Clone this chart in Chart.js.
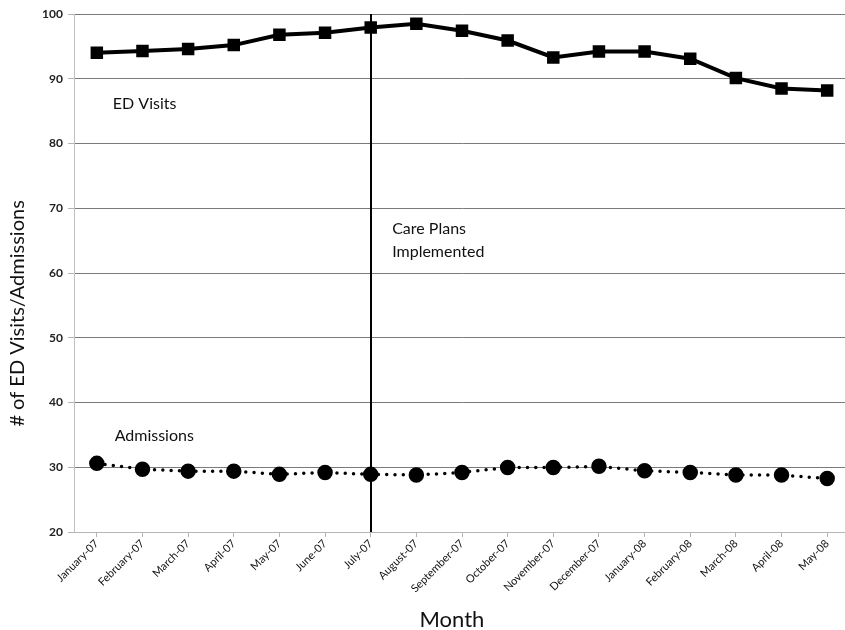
<!DOCTYPE html>
<html>
<head>
<meta charset="utf-8">
<script src="https://cdn.jsdelivr.net/npm/chart.js@4.4.1/dist/chart.umd.min.js"></script>
<style>
    html, body { margin: 0; padding: 0; background: #fff; overflow: hidden; }
    #wrap { width: 860px; height: 630px; }
</style>
</head>
<body>
<div id="wrap"><canvas id="visitsChart" width="860" height="630"></canvas></div>
<script>
var months = ["January-07", "February-07", "March-07", "April-07", "May-07", "June-07", "July-07",
    "August-07", "September-07", "October-07", "November-07", "December-07", "January-08",
    "February-08", "March-08", "April-08", "May-08"];
var edVisits = [94.0, 94.3, 94.6, 95.2, 96.8, 97.1, 97.9, 98.5, 97.4, 95.9, 93.3, 94.2, 94.2, 93.1, 90.1, 88.5, 88.2];
var admissions = [30.6, 29.7, 29.4, 29.4, 28.9, 29.2, 28.9, 28.8, 29.2, 29.95, 29.95, 30.15, 29.45, 29.2, 28.8, 28.8, 28.25];
var yTicks = [20, 30, 40, 50, 60, 70, 80, 90, 100];
var interventionMonth = "July-07";
var xTitle = "Month";
var yTitle = "# of ED Visits/Admissions";

// texte posé sur le graphique (index de catégorie, valeur y)
var notes = [
    { lines: ["ED Visits"], x: 0.35, y: 86.1 },
    { lines: ["Care Plans", "Implemented"], x: 6.47, y: 66.8 },
    { lines: ["Admissions"], x: 0.39, y: 34.9 }
];

var noteFont = "16px Lato";

var annotationPlugin = {
    id: 'annotations',
    afterDatasetsDraw: function (chart) {
        var ctx = chart.ctx;
        var xs = chart.scales.x;
        var ys = chart.scales.y;
        var area = chart.chartArea;
        // ligne verticale : mise en place des plans de soins
        var lx = Math.round(xs.getPixelForValue(months.indexOf(interventionMonth)));
        ctx.save();
        ctx.strokeStyle = '#000';
        ctx.lineWidth = 2;
        ctx.beginPath();
        ctx.moveTo(lx, area.top);
        ctx.lineTo(lx, area.bottom);
        ctx.stroke();

        ctx.fillStyle = '#111';
        ctx.font = noteFont;
        ctx.textAlign = 'left';
        ctx.textBaseline = 'middle';
        notes.forEach(function (n) {
            var px = xs.getPixelForValue(n.x);
            var py = ys.getPixelForValue(n.y);
            n.lines.forEach(function (l, i) {
                ctx.fillText(l, px, py + i * 23);
            });
        });

        // titres des axes (décalés comme dans Excel)
        ctx.textAlign = 'center';
        ctx.font = "22px Lato";
        ctx.fillText(xTitle, area.left + (area.right - area.left) * 0.487, 620);
        ctx.font = "20px Lato";
        ctx.translate(18, area.top + (area.bottom - area.top) * 0.578);
        ctx.rotate(-Math.PI / 2);
        ctx.fillText(yTitle, 0, 0);
        ctx.restore();
    }
};

var oVisitsChart = new Chart(document.getElementById('visitsChart'), {
    type: 'line',
    data: {
        labels: months,
        datasets: [{
            label: 'ED Visits',
            data: edVisits,
            borderColor: '#000',
            backgroundColor: '#000',
            borderWidth: 4,
            pointStyle: 'rect',
            pointRadius: 6,
            pointHoverRadius: 6,
            tension: 0
        }, {
            label: 'Admissions',
            data: admissions,
            borderColor: '#000',
            backgroundColor: '#000',
            borderWidth: 3.5,
            borderDash: [0, 8.3],
            borderCapStyle: 'round',
            pointStyle: 'circle',
            pointRadius: 6,
            pointHoverRadius: 6,
            tension: 0
        }]
    },
    options: {
        responsive: false,
        animation: false,
        layout: { padding: { left: 0, top: 14, right: 8, bottom: 0 } },
        plugins: {
            legend: { display: false },
            tooltip: { enabled: false }
        },
        scales: {
            x: {
                offset: true,
                grid: {
                    drawOnChartArea: false,
                    drawTicks: true,
                    tickLength: 5,
                    tickColor: '#b5b5b5'
                },
                border: { display: true, color: '#b5b5b5' },
                ticks: {
                    autoSkip: false,
                    maxRotation: 45,
                    minRotation: 45,
                    color: '#111',
                    font: { family: 'Lato', size: 11 },
                    padding: 0
                },
                afterFit: function (scale) {
                    scale.height = 98;
                }
            },
            y: {
                min: 20,
                max: 100,
                afterBuildTicks: function (scale) {
                    scale.ticks = yTicks.map(function (v) { return { value: v }; });
                },
                grid: {
                    color: function (c) { return c.tick && c.tick.value === 20 ? '#c0c0c0' : '#7a7a7a'; },
                    lineWidth: 1,
                    drawTicks: true,
                    tickLength: 6,
                    tickColor: '#b5b5b5'
                },
                border: { display: true, color: '#c0c0c0' },
                ticks: {
                    color: '#222',
                    font: { family: 'Lato', size: 12, weight: 'bold' },
                    padding: 5
                },
                afterFit: function (scale) {
                    scale.width = 74;
                }
            }
        }
    },
    plugins: [annotationPlugin]
});
</script>
</body>
</html>
